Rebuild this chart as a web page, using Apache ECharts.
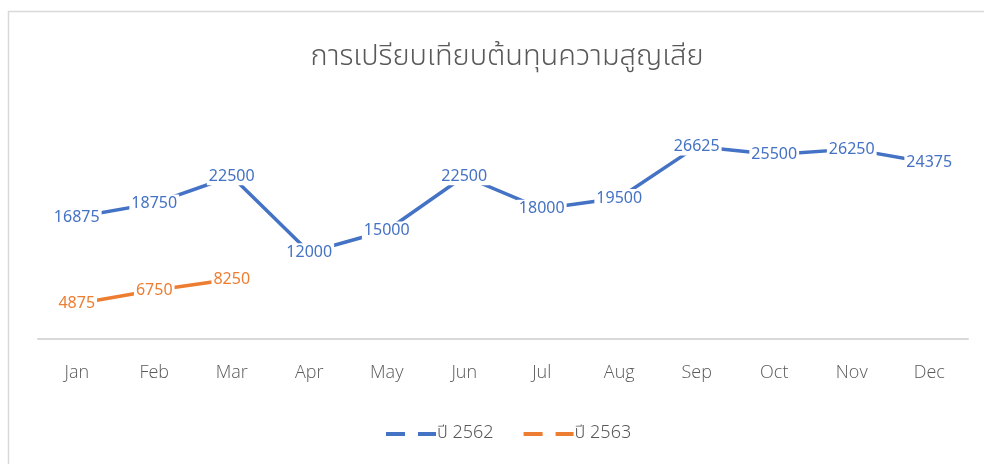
<!DOCTYPE html>
<html>
<head>
<meta charset="utf-8">
<script src="https://cdn.jsdelivr.net/npm/echarts@6/dist/echarts.min.js"></script>
<style>
  html, body { margin: 0; padding: 0; background: #fff; }
  #chart { width: 984px; height: 464px; }
</style>
</head>
<body>
<div id="chart"></div>
<script>
const months = ['Jan', 'Feb', 'Mar', 'Apr', 'May', 'Jun', 'Jul', 'Aug', 'Sep', 'Oct', 'Nov', 'Dec']
const y2562 = [16875, 18750, 22500, 12000, 15000, 22500, 18000, 19500, 26625, 25500, 26250, 24375]
const y2563 = [4875, 6750, 8250]
const seriesNames = ['ปี 2562', 'ปี 2563']
const colors = ['#4472C4', '#ED7D31']

const chart = echarts.init(document.getElementById('chart'))

const dashIcon = 'path://M0,0h19v4h-19z M32,0h18v4h-18z'

function lineSeries(name, data, color) {
  return {
    name: name,
    type: 'line',
    data: data,
    symbol: 'circle',
    symbolSize: 0,
    lineStyle: { color: color, width: 3.5 },
    itemStyle: { color: color },
    label: {
      show: true,
      position: 'inside',
      color: color,
      fontSize: 16,
      fontFamily: 'Noto Sans',
      backgroundColor: '#fff',
      padding: [1, 2]
    },
    emphasis: { disabled: true },
    animation: false
  }
}

chart.setOption({
  backgroundColor: '#fff',
  title: {
    text: 'การเปรียบเทียบต้นทุนความสูญเสีย',
    left: 502,
    textAlign: 'center',
    top: 40,
    textStyle: {
      color: '#595959',
      fontSize: 29,
      fontWeight: 300,
      fontFamily: 'Noto Sans Thai, Noto Sans, sans-serif'
    }
  },
  graphic: [{
    type: 'rect',
    shape: { x: 8.5, y: 11.5, width: 1000, height: 500 },
    style: { fill: 'none', stroke: '#d9d9d9', lineWidth: 1.5 },
    silent: true
  }],
  legend: {
    bottom: 16,
    left: 381,
    itemWidth: 50,
    itemHeight: 4,
    itemGap: 30,
    data: seriesNames.map(n => ({ name: n, icon: dashIcon })),
    textStyle: { color: '#595959', fontSize: 18, fontWeight: 300, fontFamily: 'Noto Sans Thai, Noto Sans, sans-serif', padding: [0, 0, 0, -4] }
  },
  grid: { left: 38, right: 16, top: 122, bottom: 125 },
  xAxis: {
    type: 'category',
    data: months,
    boundaryGap: true,
    axisLine: { lineStyle: { color: '#d9d9d9', width: 2 } },
    axisTick: { show: false },
    axisLabel: { color: '#595959', fontSize: 18, fontFamily: 'Open Sans', fontWeight: 300, margin: 25 }
  },
  yAxis: {
    type: 'value',
    min: 0,
    max: 30000,
    interval: 5000,
    show: false,
    splitLine: { show: false }
  },
  series: [
    lineSeries(seriesNames[0], y2562, colors[0]),
    lineSeries(seriesNames[1], y2563, colors[1])
  ]
})
</script>
</body>
</html>
